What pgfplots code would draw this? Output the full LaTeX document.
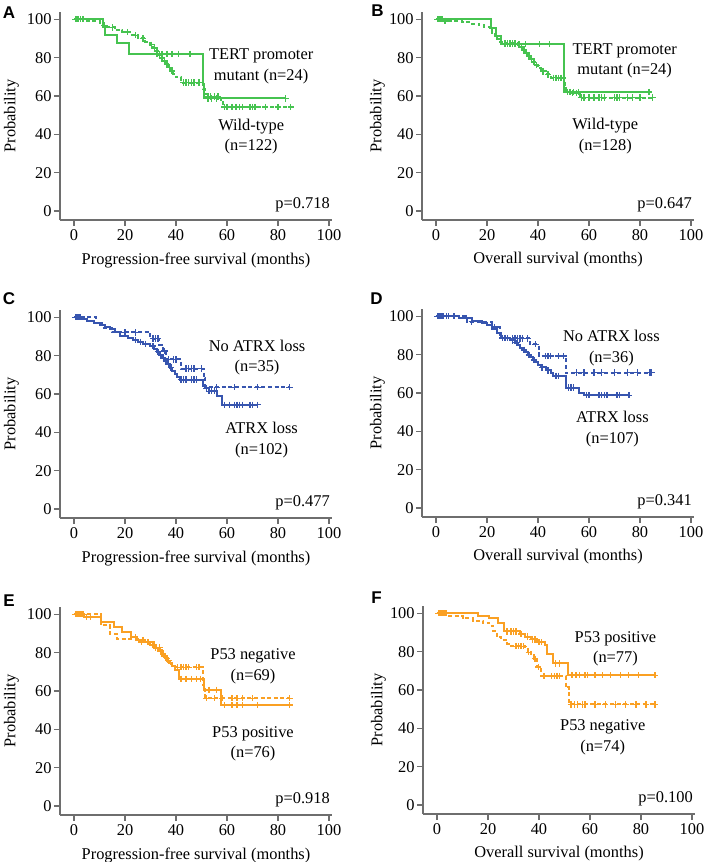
\documentclass[border=0pt]{standalone}
\usepackage{fontspec}
\setmainfont{Liberation Serif}
\newfontfamily\lettfont{Liberation Sans}
\usepackage{pgfplots}
\pgfplotsset{compat=1.18}
\definecolor{kmgreen}{RGB}{70,195,80}
\definecolor{kmblue}{RGB}{55,85,175}
\definecolor{kmorange}{RGB}{250,160,35}
\definecolor{axgray}{RGB}{110,110,110}
\newcommand{\tf}{\fontsize{8.2}{10.4}\selectfont}
\tikzset{pval/.style={font=\tf, anchor=east, inner sep=0pt}}
\pgfplotsset{
 km/.style={
  scale only axis, width=136pt, height=104pt,
  anchor=south west,
  xmin=-5.5, xmax=101.2, ymin=-4.7, ymax=103.8,
  axis x line*=bottom, axis y line*=left,
  axis line style={axgray, line width=0.6pt},
  xtick={0,20,...,100}, ytick={0,20,...,100},
  tick align=outside, major tick length=3pt,
  tick style={axgray, line width=0.6pt},
  /pgf/number format/assume math mode=true,
  ticklabel style={font=\tf, text=black},
  yticklabel style={inner sep=1pt},
  xticklabel style={yshift=1.8pt},
  label style={font=\tf},
  xlabel style={at={(axis description cs:0.5,0)}, anchor=center, yshift=-20pt},
  ylabel={Probability},
  clip=false,
 },
 leftcol/.style={ylabel style={at={(axis description cs:0,0.5)}, anchor=center, yshift=24.3pt}},
 rightcol/.style={ylabel style={at={(axis description cs:0,0.5)}, anchor=center, yshift=22.3pt}},
 kmline/.style={const plot, line width=1pt, mark=none},
 kmdash/.style={dash pattern=on 2pt off 1.3pt},
 kmcens/.style={only marks, mark=+, mark size=1.6pt, mark options={line width=0.7pt, solid}},
}
\begin{document}
\begin{tikzpicture}
\path[use as bounding box] (0,0) rectangle (354.5pt,-431pt);
% panel letters
\node[font=\lettfont\bfseries\fontsize{8.5}{10}\selectfont] at (4.5pt,-6.25pt) {A};
\node[font=\lettfont\bfseries\fontsize{8.5}{10}\selectfont] at (188.7pt,-5.5pt) {B};
\node[font=\lettfont\bfseries\fontsize{8.5}{10}\selectfont] at (4.5pt,-149.5pt) {C};
\node[font=\lettfont\bfseries\fontsize{8.5}{10}\selectfont] at (188.3pt,-149.5pt) {D};
\node[font=\lettfont\bfseries\fontsize{8.5}{10}\selectfont] at (4.5pt,-300.4pt) {E};
\node[font=\lettfont\bfseries\fontsize{8.5}{10}\selectfont] at (188.3pt,-298.7pt) {F};

% ---------------- A ----------------
\begin{axis}[km, leftcol, at={(30pt,-110pt)}, xlabel={Progression-free survival (months)}]
\addplot[kmline, kmgreen] coordinates {(0,100) (11.2,95.8) (12.2,91.7) (17,87.5) (21.5,82) (50.5,66) (51,58.7) (83,58.7)};
\addplot[kmcens, kmgreen] coordinates {(32.5,82) (34.5,82) (36.5,82) (38.5,82) (41,82) (45.5,82) (52.5,58.7) (54,58.7) (56,58.7) (83,58.7)};
\addplot[kmline, kmdash, kmgreen] coordinates {(0,100) (5,99.2) (10,98.3) (11.5,96.7) (13,95.8) (16,94.2) (19,93.3) (22,91.7) (25,90) (28,88.3) (30,86.7) (31,85) (32,83.3) (33,81.6) (34,79.9) (35,78.2) (36,76.5) (37,74.8) (38,73.1) (39,71.4) (40,69.7) (42,67) (50.5,63.5) (51.2,61) (52,59.7) (57.5,56.9) (58.5,54.2) (85,54.2)};
\addplot[kmcens, kmgreen] coordinates {(0.5,100) (1,100) (1.5,100) (2.5,100) (3.5,100) (12,96.7) (15,95.8) (21,93.3) (24,91.7) (27,90) (30.5,86.7) (31.5,85) (32.5,83.3) (33.5,81.6) (34.5,79.9) (35.5,78.2) (36.5,76.5) (37.5,74.8) (38.5,73.1) (43,67) (44,67) (45,67) (46,67) (47,67) (49,67) (52.5,59.7) (53.5,59.7) (55,59.7) (56.5,59.7) (59,54.2) (60,54.2) (62,54.2) (63.5,54.2) (65,54.2) (66,54.2) (69,54.2) (70,54.2) (71,54.2) (75,54.2) (80,54.2) (85,54.2)};
\node[font=\tf, align=center] at (axis cs:73.4,75.5) {TERT promoter\\mutant (n=24)};
\node[font=\tf, align=center] at (axis cs:69.5,38.8) {Wild-type\\(n=122)};
\node[pval] at (axis cs:100.5,3) {p=0.718};
\end{axis}

% ---------------- B ----------------
\begin{axis}[km, rightcol, at={(211pt,-110pt)}, xlabel={Overall survival (months)}]
\addplot[kmline, kmgreen] coordinates {(0,100) (21.7,95.6) (23.5,91.5) (25.5,87) (50.3,62) (83.5,62)};
\addplot[kmcens, kmgreen] coordinates {(30,87) (32.5,87) (35,87) (40.5,87) (44.5,87) (51.5,62) (52.5,62) (54,62) (56,62) (83.5,62)};
\addplot[kmline, kmdash, kmgreen] coordinates {(0,100) (3,99.2) (10,98.6) (14,97.8) (17,96.9) (19,96.1) (21,94.5) (22,93) (23,91.4) (24,89.8) (25,88.3) (26,87.4) (32,86.5) (33,85.6) (34,84) (35,82.4) (36,80.8) (37,79.2) (38,77.6) (39,76) (40,74.4) (41,72.8) (43,71.2) (45,69.5) (50.5,65) (51,63) (52.5,61.5) (56.5,59.2) (85,59.2)};
\addplot[kmcens, kmgreen] coordinates {(0.5,100) (1,100) (1.5,100) (2,100) (2.5,100) (3.5,99.2) (27,87.4) (28,87.4) (29,87.4) (30,87.4) (31,87.4) (33.5,85.6) (34.5,84) (35.5,82.4) (36.5,80.8) (37.5,79.2) (38.5,77.6) (39.5,76) (42,72.8) (44,71.2) (46,69.5) (47,69.5) (48,69.5) (49,69.5) (53.5,61.5) (55,61.5) (57,59.2) (58,59.2) (60,59.2) (62,59.2) (64,59.2) (65,59.2) (66,59.2) (70,59.2) (71,59.2) (72,59.2) (75,59.2) (77,59.2) (80,59.2) (85,59.2)};
\node[font=\tf, align=center] at (axis cs:74,78.3) {TERT promoter\\mutant (n=24)};
\node[font=\tf, align=center] at (axis cs:66.4,39) {Wild-type\\(n=128)};
\node[pval] at (axis cs:100.5,3) {p=0.647};
\end{axis}

% ---------------- C ----------------
\begin{axis}[km, leftcol, at={(30pt,-259pt)}, xlabel={Progression-free survival (months)}]
\addplot[kmline, kmdash, kmblue] coordinates {(0,100) (8.5,97.1) (11,94.3) (15,92.1) (30,88.9) (33.5,85.7) (35,82.5) (36,78) (42,73.2) (50.8,68.5) (51.5,63.5) (84.6,63.5)};
\addplot[kmcens, kmblue] coordinates {(0.5,100) (1,100) (1.5,100) (2.5,100) (20,92.1) (24,92.1) (31,88.9) (32,88.9) (33,88.9) (35.5,82.5) (37,78) (39,78) (40,78) (44,73.2) (45,73.2) (46,73.2) (47,73.2) (50,73.2) (56,63.5) (63,63.5) (72,63.5) (84.6,63.5)};
\addplot[kmline, kmblue] coordinates {(0,100) (3,99) (5,98) (8,97.1) (10,96.1) (12,95.1) (14,94.1) (16,92.1) (18,90.2) (21,89.2) (23,88.2) (25,87.2) (27,86.1) (30,85) (31.5,83.5) (32.5,82) (33.5,80.5) (34.5,78.8) (35.5,77.2) (36.5,75.5) (37.5,73.8) (38.5,72.1) (39.5,70.4) (40.5,68.7) (41.5,67.5) (50.7,64) (51.5,63) (52.8,61.4) (56,58.8) (58,54.4) (72,54.4)};
\addplot[kmcens, kmblue] coordinates {(0.5,100) (1,100) (1.5,100) (2,100) (24,88.2) (26,87.2) (28,86.1) (31,85) (33,82) (34,80.5) (35,78.8) (36,77.2) (37,75.5) (38,73.8) (42,67.5) (43,67.5) (44,67.5) (46,67.5) (47,67.5) (48,67.5) (52,63) (53,61.4) (54,61.4) (55,61.4) (59,54.4) (61,54.4) (63,54.4) (64,54.4) (65,54.4) (66,54.4) (69,54.4) (70,54.4) (72,54.4)};
\node[font=\tf, align=center] at (axis cs:71.8,79) {No ATRX loss\\(n=35)};
\node[font=\tf, align=center] at (axis cs:73.6,36) {ATRX loss\\(n=102)};
\node[pval] at (axis cs:100.5,3) {p=0.477};
\end{axis}

% ---------------- D ----------------
\begin{axis}[km, rightcol, at={(211pt,-258.5pt)}, xlabel={Overall survival (months)}]
\addplot[kmline, kmdash, kmblue] coordinates {(0,100) (12,97.2) (22,94.4) (25,88.5) (37,85.4) (40.3,79.3) (50.8,70.6) (84.5,70.6)};
\addplot[kmcens, kmblue] coordinates {(0.5,100) (1.5,100) (2.5,100) (14,97.2) (23,94.4) (30,88.5) (31,88.5) (32,88.5) (33,88.5) (34,88.5) (36,88.5) (39,85.4) (43,79.3) (44,79.3) (45,79.3) (48,79.3) (50,79.3) (55,70.6) (58,70.6) (62,70.6) (65,70.6) (70,70.6) (75,70.6) (79,70.6) (84,70.6) (84.5,70.6)};
\addplot[kmline, kmblue] coordinates {(0,100) (9,98.9) (14,97.8) (18,96.7) (20,95.5) (22,93.3) (24,91.2) (25.5,88.6) (29,87.4) (31,86.2) (32,85) (33,83.7) (34,82.5) (35,81.2) (36,79.9) (37,78.6) (38,77.2) (39,75.9) (40,74.6) (41,73.3) (43,71.8) (45,70.3) (46,68.9) (50.8,62.8) (56,60.2) (58,58.8) (75.7,58.8)};
\addplot[kmcens, kmblue] coordinates {(0.5,100) (1,100) (1.5,100) (2,100) (3,100) (4,100) (5,100) (7,100) (12,98.9) (26,88.6) (27,88.6) (28,88.6) (30,87.4) (31.5,86.2) (34.5,82.5) (36.5,79.9) (38.5,77.2) (41.5,73.3) (44,71.8) (47,68.9) (48,68.9) (52,62.8) (53,62.8) (54,62.8) (59,58.8) (60,58.8) (64,58.8) (65,58.8) (66,58.8) (67,58.8) (71,58.8) (72,58.8) (75.7,58.8)};
\node[font=\tf, align=center] at (axis cs:68.8,83.6) {No ATRX loss\\(n=36)};
\node[font=\tf, align=center] at (axis cs:69.2,41.3) {ATRX loss\\(n=107)};
\node[pval] at (axis cs:100.5,3) {p=0.341};
\end{axis}

% ---------------- E ----------------
\begin{axis}[km, leftcol, at={(30pt,-407.5pt)}, xlabel={Progression-free survival (months)}]
\addplot[kmline, kmorange] coordinates {(0,100) (4,98.7) (10.5,96) (15.7,93.3) (18.9,90.7) (22.2,88) (24.8,86.6) (28,85.3) (31.3,82.6) (33.5,81.2) (34.5,79.2) (35.5,77.5) (36.4,75.8) (37.5,74.4) (38.4,73.1) (39.5,70.9) (41,66.3) (51,60.6) (57.5,52.6) (84.5,52.6)};
\addplot[kmcens, kmorange] coordinates {(0.5,100) (1,100) (1.5,100) (2.5,100) (3.5,100) (5,98.7) (6.5,98.7) (24,88) (27,86.6) (32,82.6) (34,81.2) (35,79.2) (36,77.5) (37,75.8) (42,66.3) (44,66.3) (46,66.3) (48,66.3) (49.5,66.3) (53,60.6) (56,60.6) (59,52.6) (62,52.6) (64,52.6) (66,52.6) (72,52.6) (84.5,52.6)};
\addplot[kmline, kmdash, kmorange] coordinates {(0,100) (10.5,94.2) (14,89.9) (17,87) (26,85.5) (30,84) (32,82.6) (33,81.1) (34,79.7) (35,78.2) (36,76.8) (37,75.3) (38,73.9) (39.5,72.4) (50.5,63) (51.5,56.2) (84.5,56.2)};
\addplot[kmcens, kmorange] coordinates {(2,100) (3,100) (26.5,85.5) (29,85.5) (31,84) (33.5,82.6) (35.5,78.2) (36.5,76.8) (40.5,72.4) (42,72.4) (43,72.4) (44,72.4) (45,72.4) (48,72.4) (49,72.4) (52,56.2) (55,56.2) (58,56.2) (62,56.2) (64,56.2) (66,56.2) (70,56.2) (84.5,56.2)};
\node[font=\tf, align=center] at (axis cs:70.2,73) {P53 negative\\(n=69)};
\node[font=\tf, align=center] at (axis cs:70.2,32.4) {P53 positive\\(n=76)};
\node[pval] at (axis cs:100.5,3) {p=0.918};
\end{axis}

% ---------------- F ----------------
\begin{axis}[km, rightcol, at={(211.5pt,-407pt)}, xlabel={Overall survival (months)}]
\addplot[kmline, kmorange] coordinates {(0,100) (16.2,98.7) (20.2,97.4) (24.1,94.8) (26.4,90.6) (32.7,89.2) (34.5,87.8) (36.7,86.4) (39.3,84.9) (42.5,83.4) (43.3,78.9) (45.3,73.9) (51.5,67.7) (85.5,67.7)};
\addplot[kmcens, kmorange] coordinates {(0.5,100) (1.5,100) (2.5,100) (3.5,100) (27.5,90.6) (29,90.6) (30,90.6) (31,90.6) (33,89.2) (35.5,87.8) (37.5,86.4) (38.5,86.4) (40,84.9) (41,84.9) (46.5,73.9) (48,73.9) (53,67.7) (54.5,67.7) (56,67.7) (58,67.7) (59,67.7) (62,67.7) (65,67.7) (68,67.7) (72,67.7) (75,67.7) (79,67.7) (85.5,67.7)};
\addplot[kmline, kmdash, kmorange] coordinates {(0,100) (4,98.8) (10,97.5) (14,96.2) (18,94.9) (20.5,93.6) (22,91) (23.5,87.5) (25,86) (27.5,84.1) (29,82.8) (34.5,81.5) (35.5,79.7) (37,78) (38,76.3) (39.3,72) (40.6,67.3) (50.5,61.3) (51.8,52.5) (85.5,52.5)};
\addplot[kmcens, kmorange] coordinates {(0.5,100) (1,100) (1.5,100) (2,100) (3,100) (31,82.8) (32,82.8) (33,82.8) (34,82.8) (36,79.7) (38.5,76.3) (39.7,72) (42,67.3) (45,67.3) (46,67.3) (47,67.3) (48,67.3) (52.5,52.5) (54,52.5) (55,52.5) (57,52.5) (58,52.5) (62,52.5) (66,52.5) (70,52.5) (74,52.5) (78,52.5) (82,52.5) (85.5,52.5)};
\node[font=\tf, align=center] at (axis cs:70,81.5) {P53 positive\\(n=77)};
\node[font=\tf, align=center] at (axis cs:65,35.5) {P53 negative\\(n=74)};
\node[pval] at (axis cs:100.5,3) {p=0.100};
\end{axis}
\end{tikzpicture}
\end{document}
